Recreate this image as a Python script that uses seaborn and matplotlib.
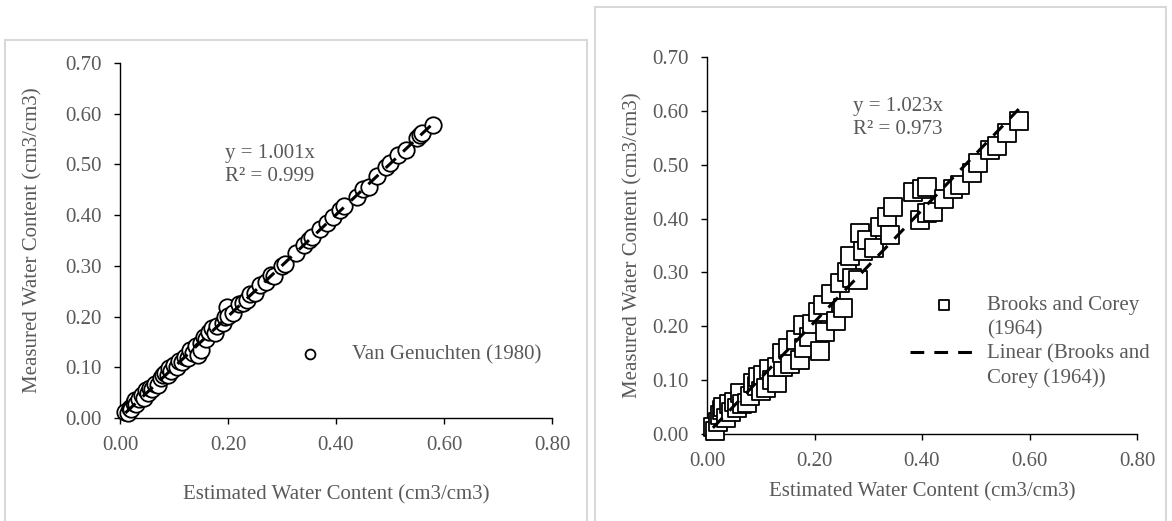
import numpy as np
import pandas as pd
import matplotlib
matplotlib.use('Agg')
import matplotlib.pyplot as plt
import seaborn as sns
from matplotlib.patches import Rectangle
from matplotlib.lines import Line2D

# Van Genuchten (1980): estimated vs measured water content (cm3/cm3)
vg_est = [0.010, 0.015, 0.018, 0.020, 0.025, 0.028, 0.030, 0.035, 0.040, 0.045,
          0.048, 0.052, 0.055, 0.060, 0.065, 0.070, 0.075, 0.080, 0.083, 0.088,
          0.090, 0.095, 0.100, 0.105, 0.110, 0.115, 0.120, 0.125, 0.130, 0.135,
          0.140, 0.145, 0.150, 0.150, 0.155, 0.160, 0.165, 0.170, 0.175, 0.180,
          0.190, 0.195, 0.198, 0.200, 0.210, 0.220, 0.227, 0.235, 0.240, 0.250,
          0.260, 0.270, 0.280, 0.285, 0.300, 0.305, 0.325, 0.340, 0.350, 0.355,
          0.370, 0.383, 0.395, 0.407, 0.415, 0.438, 0.450, 0.462, 0.475, 0.493,
          0.500, 0.515, 0.530, 0.550, 0.555, 0.560, 0.579]
vg_meas = [0.012, 0.010, 0.020, 0.018, 0.030, 0.035, 0.028, 0.038, 0.045, 0.040,
           0.055, 0.050, 0.060, 0.058, 0.068, 0.066, 0.078, 0.084, 0.089, 0.085,
           0.098, 0.092, 0.104, 0.100, 0.113, 0.110, 0.121, 0.118, 0.135, 0.128,
           0.142, 0.125, 0.148, 0.135, 0.160, 0.156, 0.170, 0.177, 0.168, 0.182,
           0.188, 0.200, 0.219, 0.202, 0.208, 0.224, 0.227, 0.232, 0.244, 0.247,
           0.262, 0.268, 0.282, 0.280, 0.300, 0.303, 0.325, 0.342, 0.351, 0.356,
           0.372, 0.385, 0.397, 0.410, 0.418, 0.436, 0.452, 0.456, 0.478, 0.495,
           0.503, 0.518, 0.528, 0.553, 0.558, 0.562, 0.578]

# Brooks and Corey (1964)
bc_est = [0.011, 0.015, 0.020, 0.025, 0.028, 0.030, 0.035, 0.040, 0.045, 0.050,
          0.055, 0.061, 0.065, 0.074, 0.080, 0.085, 0.093, 0.095, 0.100, 0.105,
          0.110, 0.115, 0.120, 0.130, 0.130, 0.141, 0.140, 0.150, 0.155, 0.165,
          0.173, 0.179, 0.180, 0.190, 0.195, 0.207, 0.210, 0.215, 0.220, 0.230,
          0.240, 0.247, 0.253, 0.260, 0.266, 0.270, 0.281, 0.285, 0.290, 0.298,
          0.310, 0.322, 0.335, 0.340, 0.346, 0.383, 0.396, 0.400, 0.409, 0.409,
          0.420, 0.440, 0.458, 0.470, 0.493, 0.504, 0.527, 0.540, 0.558, 0.580]
bc_meas = [0.013, 0.005, 0.022, 0.035, 0.045, 0.050, 0.030, 0.055, 0.040, 0.060,
           0.048, 0.076, 0.055, 0.058, 0.070, 0.095, 0.090, 0.105, 0.080, 0.110,
           0.085, 0.120, 0.100, 0.095, 0.125, 0.124, 0.150, 0.160, 0.130, 0.175,
           0.137, 0.202, 0.160, 0.180, 0.205, 0.226, 0.155, 0.240, 0.190, 0.260,
           0.210, 0.280, 0.234, 0.300, 0.330, 0.290, 0.286, 0.373, 0.340, 0.360,
           0.345, 0.384, 0.403, 0.370, 0.421, 0.449, 0.397, 0.455, 0.458, 0.410,
           0.412, 0.436, 0.455, 0.462, 0.484, 0.503, 0.527, 0.535, 0.558, 0.582]

x_ticks = [0.0, 0.2, 0.4, 0.6, 0.8]
y_ticks = [0.0, 0.1, 0.2, 0.3, 0.4, 0.5, 0.6, 0.7]
x_title = "Estimated Water Content (cm3/cm3)"
y_title = "Measured Water Content (cm3/cm3)"

GREY = '#595959'
FS = 15

sns.set_theme(style='white')
plt.rcParams['font.family'] = ['Liberation Serif', 'DejaVu Serif']


def trend(x, y):
    # linear trend forced through the origin (intercept = 0)
    x = np.asarray(x)
    y = np.asarray(y)
    slope = (x * y).sum() / (x * x).sum()
    xs = np.array([x.min(), x.max()])
    return pd.DataFrame({'x': xs, 'y': slope * xs})


def style_axes(ax, xlab_y, ylab_x):
    ax.set_xlim(0, 0.8)
    ax.set_ylim(0, 0.7)
    ax.set_xticks(x_ticks)
    ax.set_yticks(y_ticks)
    ax.set_xticklabels([f"{v:.2f}" for v in x_ticks])
    ax.set_yticklabels([f"{v:.2f}" for v in y_ticks])
    ax.tick_params(axis='both', direction='out', length=4.5, width=1.0,
                   color='black', labelsize=FS, labelcolor=GREY, pad=8.5,
                   bottom=True, left=True)
    for side in ['top', 'right']:
        ax.spines[side].set_visible(False)
    for side in ['left', 'bottom']:
        ax.spines[side].set_color('black')
        ax.spines[side].set_linewidth(1.0)
    ax.set_xlabel(x_title, fontsize=FS, color=GREY, va='center')
    ax.set_ylabel(y_title, fontsize=FS, color=GREY, va='center')
    ax.xaxis.set_label_coords(0.5, xlab_y)
    ax.yaxis.set_label_coords(ylab_x, 0.5)
    ax.grid(False)


fig = plt.figure(figsize=(11.72, 5.21), dpi=100)
W, H = 1172, 521

# chart area borders
fig.patches.append(Rectangle((5 / W, -0.1), 582 / W, 1.1 - 40 / H, transform=fig.transFigure,
                             facecolor='none', edgecolor='#d9d9d9', linewidth=1.5))
fig.patches.append(Rectangle((595 / W, -0.1), 571 / W, 1.1 - 7 / H, transform=fig.transFigure,
                             facecolor='none', edgecolor='#d9d9d9', linewidth=1.5))

ax1 = fig.add_axes([120 / W, 1 - 418 / H, 432 / W, 355 / H])
ax2 = fig.add_axes([707 / W, 1 - 434 / H, 430 / W, 377 / H])
for ax in (ax1, ax2):
    ax.set_facecolor('none')

DASH = (0, (4.5, 3.3))

# left panel
sns.scatterplot(x=vg_est, y=vg_meas, ax=ax1, marker='o', s=140, color='white',
                edgecolor='black', linewidth=1.3, clip_on=False, zorder=3,
                label='Van Genuchten (1980)')
t1 = trend(vg_est, vg_meas)
sns.lineplot(data=t1, x='x', y='y', ax=ax1, color='black', linewidth=2.2,
             linestyle=DASH, zorder=4, legend=False)
style_axes(ax1, -0.217, -0.201)
ax1.text(0.243, 0.712, "y = 1.001x\nR² = 0.999", transform=ax1.transAxes,
         fontsize=FS, color=GREY, ha='left', va='center', linespacing=1.3)
ax1.legend(loc='center left', bbox_to_anchor=(289 / W, 1 - 355 / H),
           bbox_transform=fig.transFigure, frameon=False, fontsize=FS,
           borderpad=0, borderaxespad=0, handlelength=2.0, handletextpad=1.0,
           markerscale=0.6, labelcolor=GREY)

# right panel
sns.scatterplot(x=bc_est, y=bc_meas, ax=ax2, marker='s', s=150, color='white',
                edgecolor='black', linewidth=1.3, clip_on=False, zorder=3,
                label='Brooks and Corey')
t2 = trend(bc_est, bc_meas)
sns.lineplot(data=t2, x='x', y='y', ax=ax2, color='black', linewidth=2.2,
             linestyle=DASH, zorder=4, label='Linear (Brooks and')
style_axes(ax2, -0.154, -0.172)
ax2.text(0.34, 0.838, "y = 1.023x\nR² = 0.973", transform=ax2.transAxes,
         fontsize=FS, color=GREY, ha='left', va='center', linespacing=1.3)

# Excel-style wrapped legend: handle sits on the first line of each entry
handles, labels = ax2.get_legend_handles_labels()
blank = Line2D([], [], linestyle='none')
handles = [handles[0], blank, handles[1], blank]
labels = [labels[0], '(1964)', labels[1], 'Corey (1964))']
ax2.legend(handles, labels, loc='center left', bbox_to_anchor=(910 / W, 1 - 342 / H),
           bbox_transform=fig.transFigure, frameon=False, fontsize=FS,
           borderpad=0, borderaxespad=0, handlelength=3.27, handletextpad=0.43,
           labelspacing=0.22, markerscale=0.6, labelcolor=GREY)

fig.savefig('out.png', dpi=100)
plt.close(fig)
